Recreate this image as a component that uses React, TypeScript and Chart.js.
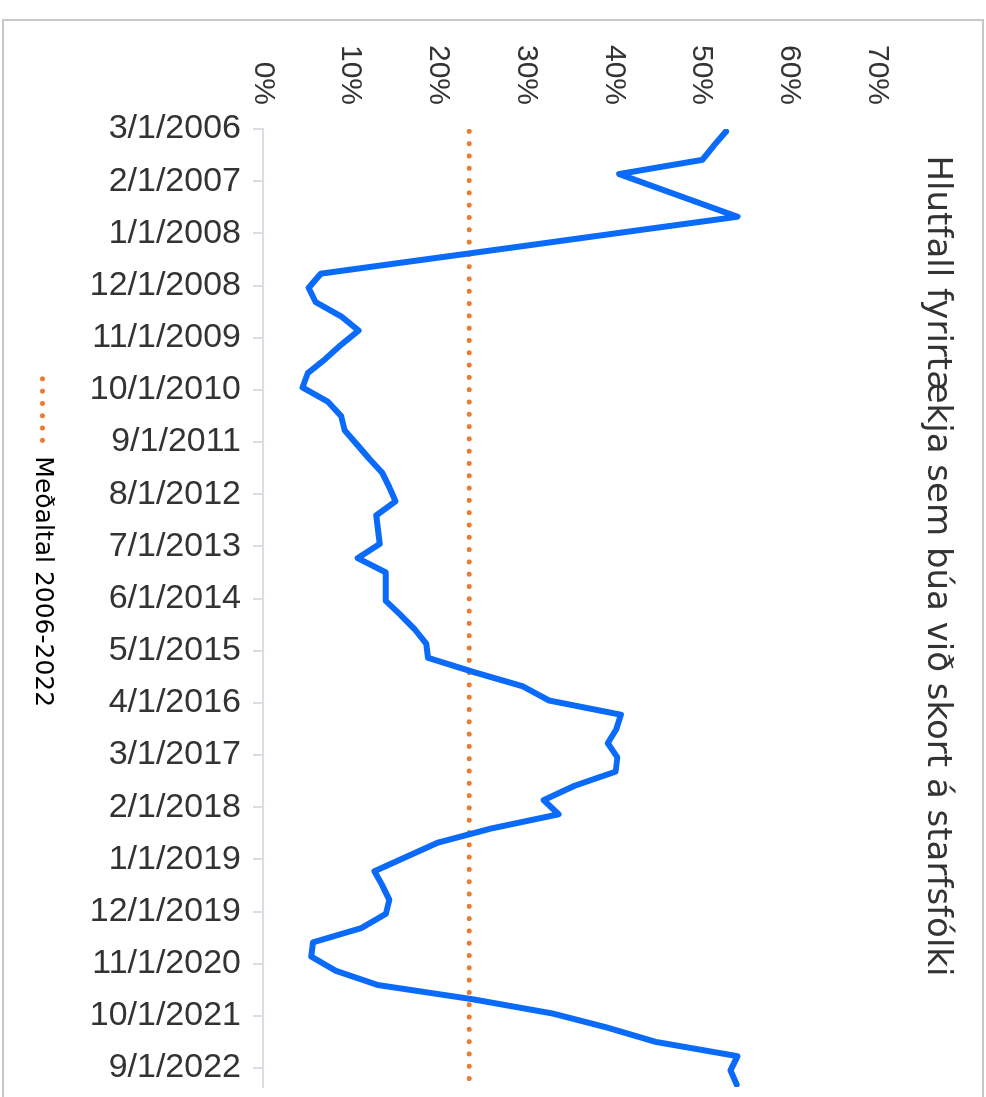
import React, { useEffect, useRef } from 'react';
import { Chart, registerables } from 'chart.js';

Chart.register(...registerables);

const TITLE = 'Hlutfall fyrirtækja sem búa við skort á starfsfólki';
const SERIES_LABEL = 'Hlutfall';
const AVERAGE_LABEL = 'Meðaltal 2006-2022';

// x-axis tick labels and their position in months after 3/1/2006
const TICK_LABELS = [
  '3/1/2006', '2/1/2007', '1/1/2008', '12/1/2008', '11/1/2009', '10/1/2010',
  '9/1/2011', '8/1/2012', '7/1/2013', '6/1/2014', '5/1/2015', '4/1/2016',
  '3/1/2017', '2/1/2018', '1/1/2019', '12/1/2019', '11/1/2020', '10/1/2021', '9/1/2022',
];
const TICK_MONTHS = [0, 11, 22, 33, 44, 55, 66, 77, 88, 99, 110, 121, 132, 143, 154, 165, 176, 187, 198];
const AXIS_END_MONTH = 202;

// quarterly survey values (%), Q1 2006 .. Q4 2022
const VALUES = [
  52.8, 51.4, 50.1, 40.6, 45.1, 49.6, 54.1, 42.2, 30.4, 18.5,
  6.6, 5.2, 6.0, 8.9, 10.9, 8.9, 7.1, 5.1, 4.5, 7.4,
  8.9, 9.3, 10.7, 12.1, 13.6, 14.4, 15.1, 12.9, 13.1, 13.3,
  10.8, 14.0, 14.0, 14.0, 15.7, 17.3, 18.6, 18.8, 24.0, 29.6,
  32.6, 40.8, 40.3, 39.3, 40.4, 40.2, 35.5, 32.0, 33.7, 26.0,
  19.9, 16.3, 12.7, 13.6, 14.4, 14.0, 11.2, 5.7, 5.5, 8.3,
  13.1, 23.9, 33.0, 39.3, 44.8, 54.1, 53.3, 54.0,
];
const AVERAGE = 23.5;
const Y_MIN = 0;
const Y_MAX = 70;
const Y_STEP = 10;

const BLUE = '#0a6bfa';
const ORANGE = '#ee7a30';
const TEXT = '#333333';
const AXIS = '#dcdce6';
const DOTS = [0.001, 12.3];

// survey month of quarter k, measured in months after 3/1/2006 (mid-month)
const monthOfQuarter = (k: number) => k * 3 + 0.5;

const legendShift = {
  id: 'legendShift',
  afterLayout(chart: any) {
    if (chart.legend) {
      chart.legend.left -= 23;
      chart.legend.right -= 23;
    }
  },
};

function LineChart() {
  const ref = useRef<HTMLCanvasElement | null>(null);
  useEffect(() => {
    if (!ref.current) return;
    const series = VALUES.map((v, k) => ({ x: monthOfQuarter(k), y: v }));
    const avg = [
      { x: monthOfQuarter(0), y: AVERAGE },
      { x: monthOfQuarter(VALUES.length - 1), y: AVERAGE },
    ];
    const chart = new Chart(ref.current, {
      type: 'line',
      data: {
        datasets: [
          {
            label: SERIES_LABEL,
            data: series,
            borderColor: BLUE,
            backgroundColor: BLUE,
            borderWidth: 6,
            pointRadius: 0,
            tension: 0,
            borderJoinStyle: 'round',
            borderCapStyle: 'round',
          },
          {
            label: AVERAGE_LABEL,
            data: avg,
            borderColor: ORANGE,
            backgroundColor: ORANGE,
            borderWidth: 5,
            borderDash: DOTS,
            borderCapStyle: 'round',
            pointRadius: 0,
          },
        ],
      },
      options: {
        animation: false,
        responsive: false,
        devicePixelRatio: 1,
        layout: { padding: { left: 45, right: 10, top: 0, bottom: 20 } },
        plugins: {
          tooltip: { enabled: false },
          title: {
            display: true,
            text: TITLE,
            color: TEXT,
            font: { family: 'DejaVu Sans', size: 34, weight: 'normal' },
            padding: { top: 28.6, bottom: 39.6 },
          },
          legend: {
            display: true,
            position: 'bottom',
            labels: {
              usePointStyle: true,
              pointStyleWidth: 65,
              padding: 10,
              color: '#444444',
              font: { family: 'DejaVu Sans', size: 25 },
              generateLabels: () => [
                {
                  text: AVERAGE_LABEL,
                  fillStyle: ORANGE,
                  strokeStyle: ORANGE,
                  lineWidth: 5,
                  lineDash: DOTS,
                  lineCap: 'round',
                  pointStyle: 'line',
                  hidden: false,
                  datasetIndex: 1,
                } as any,
              ],
            },
          },
        },
        scales: {
          x: {
            type: 'linear',
            min: 0,
            max: AXIS_END_MONTH,
            afterBuildTicks: (scale: any) => {
              scale.ticks = TICK_MONTHS.map((m) => ({ value: m }));
            },
            afterFit: (scale: any) => {
              scale.height = 198;
              scale.paddingLeft = 0;
              scale.paddingRight = 0;
            },
            grid: {
              display: true,
              drawOnChartArea: false,
              drawTicks: true,
              tickLength: 10,
              color: AXIS,
              lineWidth: 2,
            },
            border: { display: true, color: AXIS, width: 2 },
            ticks: {
              autoSkip: false,
              minRotation: 90,
              maxRotation: 90,
              padding: 12,
              color: TEXT,
              font: { family: 'Liberation Sans', size: 34 },
              callback: (_v: any, i: number) => TICK_LABELS[i],
            },
          },
          y: {
            min: Y_MIN,
            max: Y_MAX,
            afterFit: (scale: any) => {
              scale.width = 84;
            },
            grid: { display: false, drawTicks: false },
            border: { display: false },
            ticks: {
              stepSize: Y_STEP,
              padding: 24,
              color: TEXT,
              font: { family: 'Liberation Sans', size: 30 },
              callback: (v: any) => `${v}%`,
            },
          },
        },
      },
      plugins: [legendShift],
    } as any);
    return () => chart.destroy();
  }, []);
  return (
    <canvas
      ref={ref}
      width={1097}
      height={986}
      style={{ position: 'absolute', left: 0, top: 0, width: 1097, height: 986 }}
    />
  );
}

export default function App() {
  return (
    <div
      style={{
        position: 'absolute',
        left: 0,
        top: 0,
        width: 986,
        height: 1097,
        overflow: 'hidden',
        background: '#ffffff',
      }}
    >
      <div
        style={{
          position: 'absolute',
          left: 0,
          top: 0,
          width: 1097,
          height: 986,
          transformOrigin: '0 0',
          transform: 'translateX(986px) rotate(90deg)',
        }}
      >
        <div
          style={{
            position: 'absolute',
            left: 19,
            top: 2,
            width: 1200,
            height: 982,
            border: '2px solid #c8c8c8',
            boxSizing: 'border-box',
          }}
        />
        <LineChart />
      </div>
    </div>
  );
}
